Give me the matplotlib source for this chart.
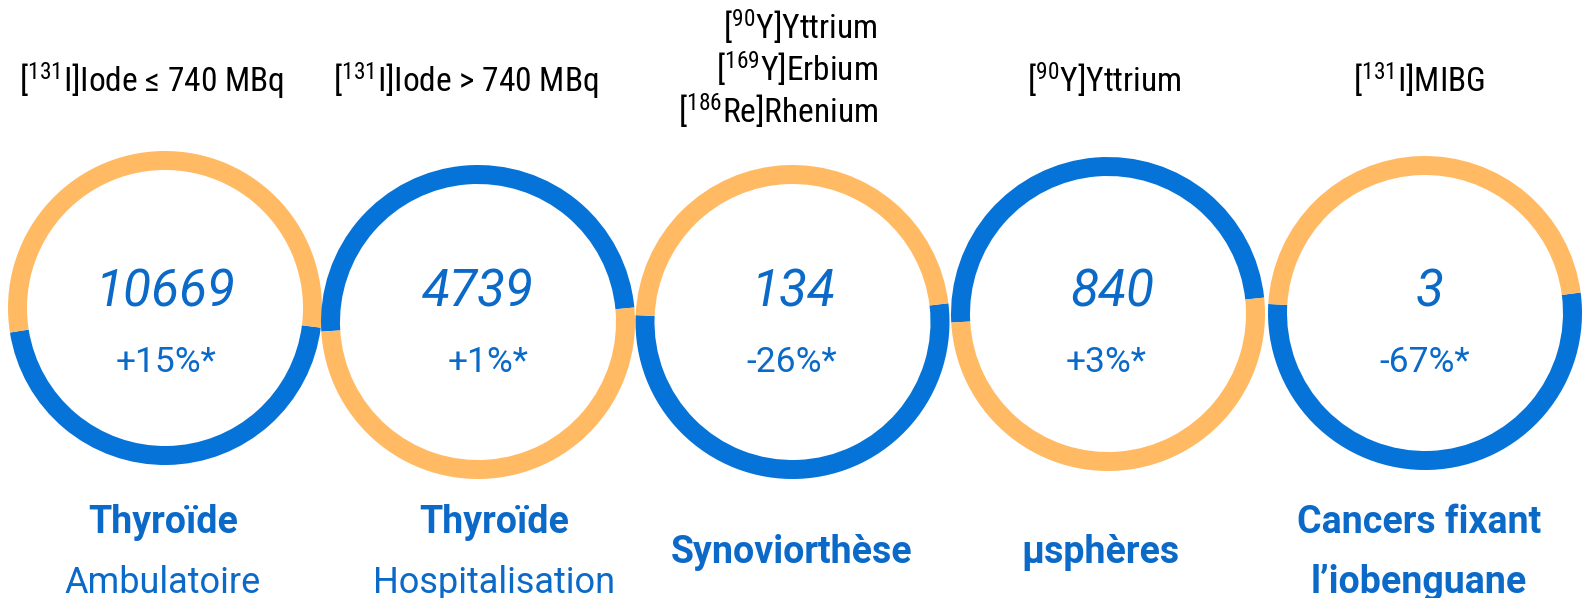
import matplotlib
matplotlib.use("Agg")
import matplotlib.pyplot as plt
from matplotlib import font_manager as fm

# ------------------------------------------------------------------ data
counts = ["10669", "4739", "134", "840", "3"]
changes = ["+15%*", "+1%*", "-26%*", "+3%*", "-67%*"]
blue_share = [45.5, 49.5, 52.6, 49.2, 53.0]   # % of ring drawn in blue
top_labels = [
    r"[$\mathregular{^{131}}$I]Iode ≤ 740 MBq",
    r"[$\mathregular{^{131}}$I]Iode > 740 MBq",
    None,
    r"[$\mathregular{^{90}}$Y]Yttrium",
    r"[$\mathregular{^{131}}$I]MIBG",
]
synov_lines = [
    r"[$\mathregular{^{90}}$Y]Yttrium",
    r"[$\mathregular{^{169}}$Y]Erbium",
    r"[$\mathregular{^{186}}$Re]Rhenium",
]
bold_labels = [["Thyroïde"], ["Thyroïde"], ["Synoviorthèse"], ["µsphères"],
               ["Cancers fixant", "l’iobenguane"]]
sub_labels = ["Ambulatoire", "Hospitalisation", None, None, None]

# ------------------------------------------------------------------ layout (pixels, y from top)
W, H = 1585, 598
ring_x = [165, 478, 792.5, 1108, 1425]
ring_y = [308, 322, 322, 314, 313]
start_angle = [189, 5.3, 177.5, 6, 176.7]
R, RW = 157, 19
num_x = [166, 478, 794, 1112, 1430]
pct_x = [166, 488, 792, 1106, 1425]
top_x = [152, 466, None, 1104, 1419]
bot_x = [163, 494, 792, 1100, 1419]

BLUE = "#0673D8"
ORANGE = "#FFBA63"
TXT = "#0B69C8"

names = {f.name for f in fm.fontManager.ttflist}
narrow = next((n for n in ["Roboto Condensed", "Liberation Sans Narrow",
                           "DejaVu Sans Condensed"] if n in names), "Roboto")
narrow_size = 24

fig = plt.figure(figsize=(W / 100, H / 100), dpi=100)
ax = fig.add_axes([0, 0, 1, 1])

for i in range(5):
    cx, cy = ring_x[i], H - ring_y[i]
    ax.pie([blue_share[i], 100 - blue_share[i]], colors=[BLUE, ORANGE],
           startangle=start_angle[i], counterclock=True, center=(cx, cy),
           radius=R, wedgeprops=dict(width=RW, linewidth=0))

    ax.text(num_x[i], H - 306.5, counts[i], ha="center", va="baseline",
            fontsize=37, family="Roboto", weight="normal", style="italic", color=TXT)
    ax.text(pct_x[i], H - 372.5, changes[i], ha="center", va="baseline",
            fontsize=25.5, family="Roboto", weight="normal", color=TXT)

    if top_labels[i] is not None:
        ax.text(top_x[i], H - 92, top_labels[i], ha="center", va="baseline",
                fontsize=narrow_size, family=[narrow, "DejaVu Sans"], color="black")

    lines = bold_labels[i]
    if len(lines) == 1 and sub_labels[i] is None:
        ax.text(bot_x[i], H - 563, lines[0], ha="center", va="baseline",
                fontsize=27, family="Roboto", weight="bold", color=TXT)
    else:
        ax.text(bot_x[i], H - 533, lines[0], ha="center", va="baseline",
                fontsize=27, family="Roboto", weight="bold", color=TXT)
        if sub_labels[i] is not None:
            ax.text(bot_x[i], H - 593, sub_labels[i], ha="center", va="baseline",
                    fontsize=26, family="Roboto", weight="normal", color=TXT)
        else:
            ax.text(bot_x[i], H - 593, lines[1], ha="center", va="baseline",
                    fontsize=27, family="Roboto", weight="bold", color=TXT)

# three stacked isotopes above the synoviorthese ring
for k, line in enumerate(synov_lines):
    ax.text(878, H - (39 + 42 * k), line, ha="right", va="baseline",
            fontsize=narrow_size, family=[narrow, "DejaVu Sans"], color="black")

ax.set_xlim(0, W)
ax.set_ylim(0, H)
ax.set_aspect("auto")
ax.axis("off")

fig.savefig("out.png", dpi=100, facecolor="white")
